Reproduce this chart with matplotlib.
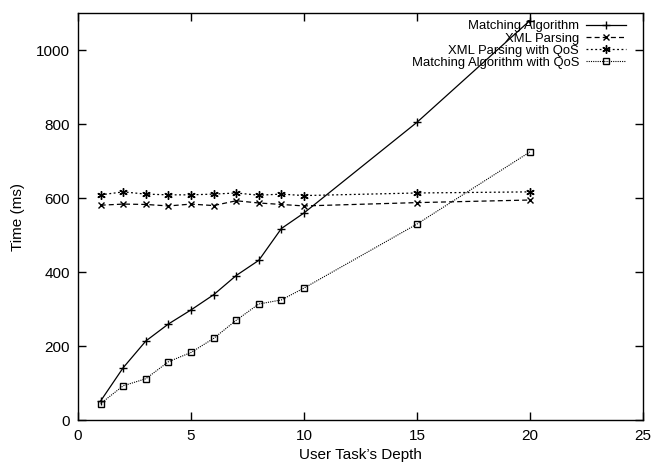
import matplotlib
matplotlib.use("Agg")
import matplotlib.pyplot as plt

plt.rcParams['font.family'] = ['Liberation Sans', 'DejaVu Sans']

depth = [1, 2, 3, 4, 5, 6, 7, 8, 9, 10, 15, 20]
matching = [52, 142, 214, 260, 298, 339, 391, 432, 518, 560, 805, 1080]
xml = [581, 584, 583, 579, 584, 580, 593, 587, 583, 579, 588, 595]
xml_qos = [609, 617, 611, 609, 609, 611, 614, 608, 611, 607, 614, 617]
matching_qos = [45, 93, 112, 158, 183, 221, 270, 314, 325, 357, 530, 725]

fig = plt.figure(figsize=(6.56, 4.70), dpi=100)
ax = fig.add_axes([0.119, 0.106, 0.861, 0.866])

lw = 0.9
ax.plot(depth, matching, color='black', linestyle='-', linewidth=lw,
        marker='+', markersize=6, markeredgewidth=1.0, label='Matching Algorithm')
ax.plot(depth, xml, color='black', linestyle=(0, (4, 2.5)), linewidth=lw,
        marker='x', markersize=5, markeredgewidth=1.0, label='XML Parsing')
ax.plot(depth, xml_qos, color='black', linestyle=(0, (1.5, 2)), linewidth=lw,
        marker=(6, 2, 0), markersize=6, markeredgewidth=1.0, label='XML Parsing with QoS')
ax.plot(depth, matching_qos, color='black', linestyle=(0, (1, 1)), linewidth=0.8,
        marker='s', markersize=5, markerfacecolor='none', markeredgewidth=1.0,
        label='Matching Algorithm with QoS')

ax.set_xlim(0, 25)
ax.set_ylim(0, 1100)
ax.set_xticks([0, 5, 10, 15, 20, 25])
ax.set_yticks([0, 200, 400, 600, 800, 1000])
ax.tick_params(direction='in', top=True, right=True, length=6, width=1.0,
               labelsize=11, pad=6)
for s in ax.spines.values():
    s.set_linewidth(1.0)

ax.set_xlabel("User Task’s Depth", fontsize=11, labelpad=4)
ax.set_ylabel("Time (ms)", fontsize=11, labelpad=8)

leg = ax.legend(loc='upper right', bbox_to_anchor=(0.977, 0.992),
                frameon=False, markerfirst=False,
                fontsize=9.4, handlelength=3.1, labelspacing=0.0,
                borderaxespad=0.0, handletextpad=0.5, borderpad=0.3)

fig.savefig('out.png', dpi=100)
